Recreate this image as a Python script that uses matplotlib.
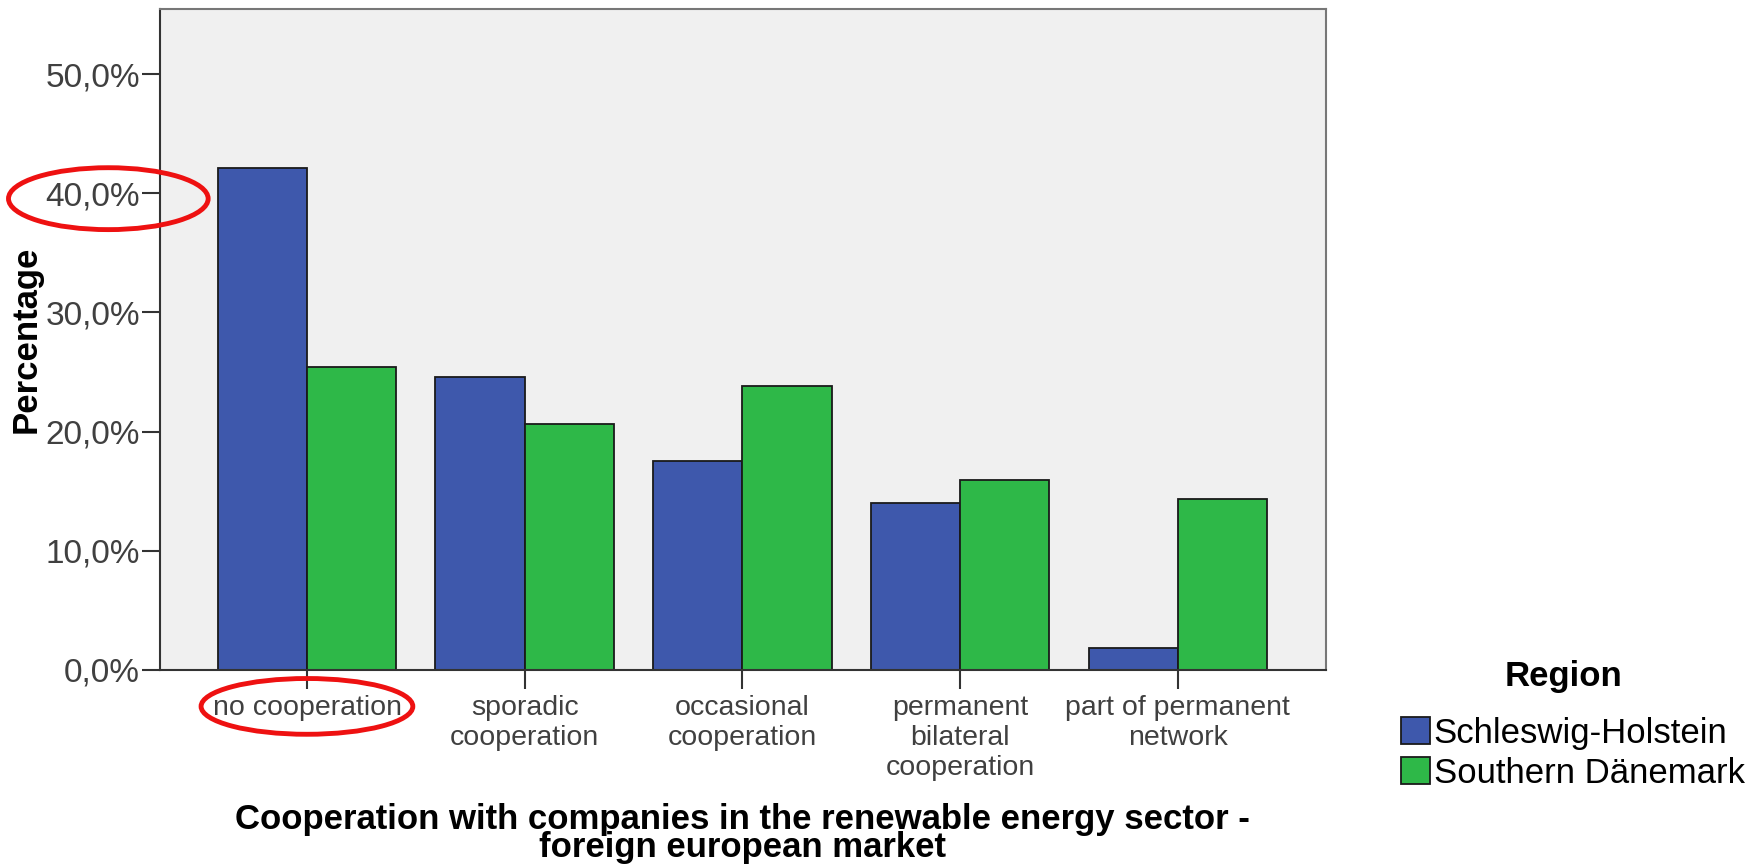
import matplotlib
matplotlib.use("Agg")
import matplotlib.pyplot as plt
from matplotlib.patches import Ellipse, Patch
import numpy as np

# data (percent of companies per region)
categories = ["no cooperation", "sporadic\ncooperation", "occasional\ncooperation",
              "permanent\nbilateral\ncooperation", "part of permanent\nnetwork"]
regions = ["Schleswig-Holstein", "Southern Dänemark"]
schleswig_holstein = [42.1, 24.6, 17.5, 14.0, 1.8]
southern_daenemark = [25.4, 20.6, 23.8, 15.9, 14.3]
yticks = [0, 10, 20, 30, 40, 50]

colors = ["#3e58ac", "#2eb848"]

plt.rcParams["font.family"] = ["Liberation Sans", "DejaVu Sans"]

fig = plt.figure(figsize=(17.5, 8.66), dpi=100)
ax = fig.add_axes([0.0912, 0.2268, 0.6665, 0.7629])
ax.set_facecolor("#f0f0f0")

x = np.arange(len(categories))
w = 0.41
ax.bar(x - w / 2, schleswig_holstein, w, color=colors[0], edgecolor="#1a1a1a", linewidth=1.3)
ax.bar(x + w / 2, southern_daenemark, w, color=colors[1], edgecolor="#1a1a1a", linewidth=1.3)

ax.set_xlim(-0.677, len(categories) - 1 + 0.68)
ax.set_ylim(0, 55.5)

# y axis
ax.set_yticks(yticks)
ax.set_yticklabels([("%.1f%%" % v).replace(".", ",") for v in yticks])
ax.tick_params(axis="y", length=13, width=1.5, color="#333333", labelsize=24,
               labelcolor="#404040", pad=1)
ax.set_ylabel("Percentage", fontsize=25, fontweight="bold")
ax.yaxis.set_label_coords(-0.1005, 0.5)

# x axis
ax.set_xticks(x)
ax.set_xticklabels(categories, linespacing=1.2)
ax.tick_params(axis="x", length=14, width=1.5, color="#333333", labelsize=20.5,
               labelcolor="#404040", pad=4)

for s in ax.spines.values():
    s.set_color("#333333")
    s.set_linewidth(1.5)
ax.spines["top"].set_color("#777777")
ax.spines["right"].set_color("#777777")

fig.text(0.4244, 0.0375, "Cooperation with companies in the renewable energy sector -\nforeign european market",
         ha="center", va="center", fontsize=25, fontweight="bold", linespacing=0.82)

# legend
fig.text(0.8935, 0.2185, "Region", ha="center", va="center", fontsize=25, fontweight="bold")
handles = [Patch(facecolor=c, edgecolor="#1a1a1a", linewidth=1.3) for c in colors]
leg = fig.legend(handles, regions, loc="upper left", bbox_to_anchor=(0.8004, 0.1725),
                 frameon=False, fontsize=25, borderpad=0,
                 handlelength=0.85, handleheight=0.85, handletextpad=0.1,
                 labelspacing=0.2, borderaxespad=0)

# red highlight ellipses
fig.patches.append(Ellipse((0.0619, 0.7706), 0.1141, 0.0715, transform=fig.transFigure,
                           fill=False, edgecolor="#ee1111", linewidth=3.5))
fig.patches.append(Ellipse((0.1754, 0.1843), 0.121, 0.0644, transform=fig.transFigure,
                           fill=False, edgecolor="#ee1111", linewidth=3.5))

fig.savefig("out.png", dpi=100)
